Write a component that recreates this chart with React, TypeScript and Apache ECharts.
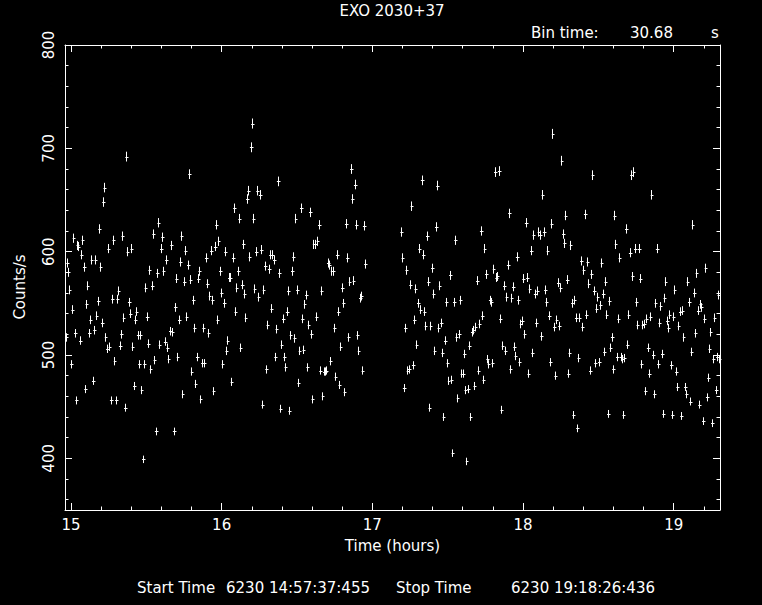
import React, { useEffect, useRef } from "react";
import * as echarts from "echarts";

// ---- data ----
const binTime = 30.68; // seconds
const binHours = binTime / 3600;
const xMin = 14.9604; // start 14:57:37.455
const xMax = 19.3073; // stop 19:18:26.436

const seg1Start = 14.9646;
const seg1Counts = [
  517, 589, 580, 563, 491, 544, 613, 521, 456, 606, 605, 514, 597, 611, 585, 467, 549, 567, 521, 534,
  592, 475, 524, 592, 538, 552, 622, 585, 531, 648, 662, 517, 506, 603, 508, 456, 554, 611, 494, 456,
  554, 562, 509, 520,
  615, 536, 449, 692, 600, 551, 540, 603, 508, 470, 534, 542, 519, 491, 519, 466, 399, 491, 565, 537,
  511, 582, 486, 567, 617, 495, 426, 579, 628, 510, 603, 614, 581, 513, 592, 507, 496, 523, 606, 522,
  426, 546, 574, 498, 534, 590, 615,
  462, 571, 601, 537, 587, 675, 573, 484, 553, 526, 472, 498, 574, 581, 457, 492, 526, 492, 594, 569,
  521, 557, 601, 553, 465, 605, 626, 534, 610, 581, 560, 491, 550, 600, 504, 514, 575, 575, 474, 594,
  642, 542, 565, 581, 632, 507,
  568, 607, 559, 536, 651, 659, 595, 701, 724, 632, 564, 600, 659, 556, 655, 602, 452, 563, 586, 486,
  529, 583, 597, 545, 597, 592, 498, 525, 668, 579, 448, 510, 535, 498, 488, 542, 562, 446, 519, 581,
  595, 516, 632, 563, 473, 504, 642,
  535, 505, 549, 558, 488, 529, 638, 520, 457, 607, 607, 537, 610, 626, 485, 562, 460, 484, 484, 485,
  589, 587, 494, 581, 581, 526, 479, 597, 542, 471, 508, 565, 550, 464, 627, 594, 517, 571, 680, 651,
  572, 665, 626, 519, 504, 555, 557, 485, 625, 588,
];

const seg2Start = 17.19;
const seg2Counts = [
  619, 594, 468, 526, 582, 485, 486, 568, 644, 490, 534, 564, 510, 550, 603, 544, 669, 597, 542, 528,
  615, 571, 449, 528, 584, 559, 504, 624, 664, 526,
  567, 531, 502, 440, 514, 551, 492, 475, 577, 476, 405, 551, 611, 517, 458, 520, 553, 482, 482, 501,
  466, 397, 467, 509, 440, 522, 524, 470, 527, 572, 485, 530, 620, 538, 476, 603, 578, 496, 491, 553,
  551, 492, 583, 677, 575, 576, 678,
  535, 447, 509, 567, 504, 556, 587, 637, 486, 555, 566, 508, 499, 595, 553, 493, 530, 533, 574, 520,
  628, 575, 482, 564, 601, 502, 616, 559, 531, 562, 619, 616, 518, 655, 619, 563, 551, 601, 538, 493,
  627, 714, 527, 480, 534, 570, 528,
  565, 688, 617, 608, 635, 573, 482, 502, 606, 550, 442, 553, 536, 429, 497, 536, 591, 527, 582, 636,
  539, 590, 569, 485, 578, 674, 562, 492, 545, 556, 493, 548, 589, 559, 503, 571, 539, 443, 552, 507,
  517, 486, 635, 607, 498, 535, 594,
  498, 496, 442, 497, 622, 510, 539, 599, 674, 576, 677, 603, 551, 529, 603, 574, 491, 529, 530, 465,
  535, 507, 482, 537, 655, 500, 462, 550, 603, 491, 531, 547, 501, 443, 555, 571, 533, 526, 539, 490,
  442, 537, 563, 484, 469, 528, 542, 441,
  543, 517, 469, 462, 571, 551, 455, 503, 626, 560, 521, 579, 543, 452, 549, 546, 436, 535, 584, 459,
  478, 506, 522, 434, 496, 536, 466, 498, 558, 496,
];

const xMajorTicks = [15, 16, 17, 18, 19];
const xMinorTicks = [
  15.2, 15.4, 15.6, 15.8, 16.2, 16.4, 16.6, 16.8, 17.2, 17.4, 17.6, 17.8, 18.2, 18.4, 18.6, 18.8, 19.2,
];
const yMin = 350;
const yMax = 800;
const yMajorTicks = [400, 500, 600, 700, 800];
const yMinorTicks = [
  360, 380, 420, 440, 460, 480, 520, 540, 560, 580, 620, 640, 660, 680, 720, 740, 760, 780,
];

const titleText = "EXO 2030+37";
const binLabel = "Bin time:";
const binValue = "30.68";
const binUnit = "s";
const startLabel = "Start Time";
const startValue = "6230 14:57:37:455";
const stopLabel = "Stop Time";
const stopValue = "6230 19:18:26:436";

const FONT = "DejaVu Sans";
const FS = 15;
const WHITE = "#ffffff";

function buildPoints(start: number, counts: number[]) {
  return counts.map((c, i) => [start + i * binHours, c, Math.sqrt(c / binTime)]);
}

function txt(text: string, x: number, y: number, align: string, extra: any = {}) {
  return {
    type: "text",
    x,
    y,
    ...extra,
    style: { text, fill: WHITE, font: `${FS}px "${FONT}"`, textAlign: align, textVerticalAlign: "middle" },
  };
}

export default function App() {
  const ref = useRef<HTMLDivElement>(null);

  useEffect(() => {
    if (!ref.current) return;
    const chart = echarts.init(ref.current, undefined, { renderer: "svg" });
    const data = [...buildPoints(seg1Start, seg1Counts), ...buildPoints(seg2Start, seg2Counts)];

    const baseX = (position: "top" | "bottom", ticks: number[], len: number, showLine: boolean, labels: boolean) => ({
      type: "value" as const,
      min: xMin,
      max: xMax,
      position,
      gridIndex: 0,
      axisLine: { show: showLine, onZero: false, lineStyle: { color: WHITE, width: 1 } },
      axisTick: { show: true, inside: true, length: len, customValues: ticks, lineStyle: { color: WHITE, width: 1 } },
      axisLabel: labels
        ? {
            show: true,
            customValues: xMajorTicks,
            color: WHITE,
            fontFamily: FONT,
            fontSize: FS,
            margin: 7,
            formatter: (v: number) => String(Math.round(v)),
          }
        : { show: false },
      splitLine: { show: false },
      minorTick: { show: false },
    });

    const baseY = (position: "left" | "right", ticks: number[], len: number, showLine: boolean, labels: boolean) => ({
      type: "value" as const,
      min: yMin,
      max: yMax,
      position,
      gridIndex: 0,
      axisLine: { show: showLine, onZero: false, lineStyle: { color: WHITE, width: 1 } },
      axisTick: { show: true, inside: true, length: len, customValues: ticks, lineStyle: { color: WHITE, width: 1 } },
      axisLabel: labels
        ? {
            show: true,
            customValues: yMajorTicks,
            rotate: 90,
            color: WHITE,
            fontFamily: FONT,
            fontSize: FS,
            margin: 9,
            formatter: (v: number) => String(Math.round(v)),
          }
        : { show: false },
      splitLine: { show: false },
      minorTick: { show: false },
    });

    chart.setOption({
      animation: false,
      backgroundColor: "#000000",
      grid: { left: 65, right: 42, top: 45, bottom: 95, containLabel: false, outerBoundsMode: "none" },
      xAxis: [
        {
          ...baseX("bottom", xMajorTicks, 7, true, true),
          name: "Time (hours)",
          nameLocation: "middle",
          nameGap: 28,
          nameTextStyle: { color: WHITE, fontFamily: FONT, fontSize: FS },
        },
        baseX("bottom", xMinorTicks, 3.5, false, false),
        baseX("top", xMajorTicks, 7, true, false),
        baseX("top", xMinorTicks, 3.5, false, false),
      ],
      yAxis: [
        baseY("left", yMajorTicks, 7, true, true),
        baseY("left", yMinorTicks, 3.5, false, false),
        baseY("right", yMajorTicks, 7, true, false),
        baseY("right", yMinorTicks, 3.5, false, false),
      ],
      graphic: [
        txt(titleText, 392, 11, "center"),
        txt(binLabel, 531, 33, "left"),
        txt(binValue, 630, 33, "left"),
        txt(binUnit, 711, 33, "left"),
        txt("Counts/s", 20, 287, "center", { rotation: Math.PI / 2 }),
        txt(startLabel, 137, 588, "left"),
        txt(startValue, 370, 588, "right"),
        txt(stopLabel, 396, 588, "left"),
        txt(stopValue, 655, 588, "right"),
      ],
      series: [
        {
          type: "custom",
          xAxisIndex: 0,
          yAxisIndex: 0,
          data,
          renderItem: (_params: any, api: any) => {
            const t = api.value(0);
            const c = api.value(1);
            const e = api.value(2);
            const top = api.coord([t, c + e]);
            const bot = api.coord([t, c - e]);
            const l = api.coord([t - binHours / 2, c]);
            const r = api.coord([t + binHours / 2, c]);
            const x = Math.round(top[0]) + 0.5;
            const yc = Math.round(l[1]) + 0.5;
            const xl = Math.min(l[0], x - 0.5);
            const xr = Math.max(r[0], x + 2);
            return {
              type: "group",
              children: [
                { type: "line", shape: { x1: x, y1: top[1], x2: x, y2: bot[1] }, style: { stroke: WHITE, lineWidth: 1 } },
                { type: "line", shape: { x1: xl, y1: yc, x2: xr, y2: yc }, style: { stroke: WHITE, lineWidth: 1 } },
              ],
            };
          },
        },
      ],
    });

    return () => chart.dispose();
  }, []);

  return <div ref={ref} style={{ position: "absolute", left: 0, top: 0, width: 762, height: 605 }} />;
}
